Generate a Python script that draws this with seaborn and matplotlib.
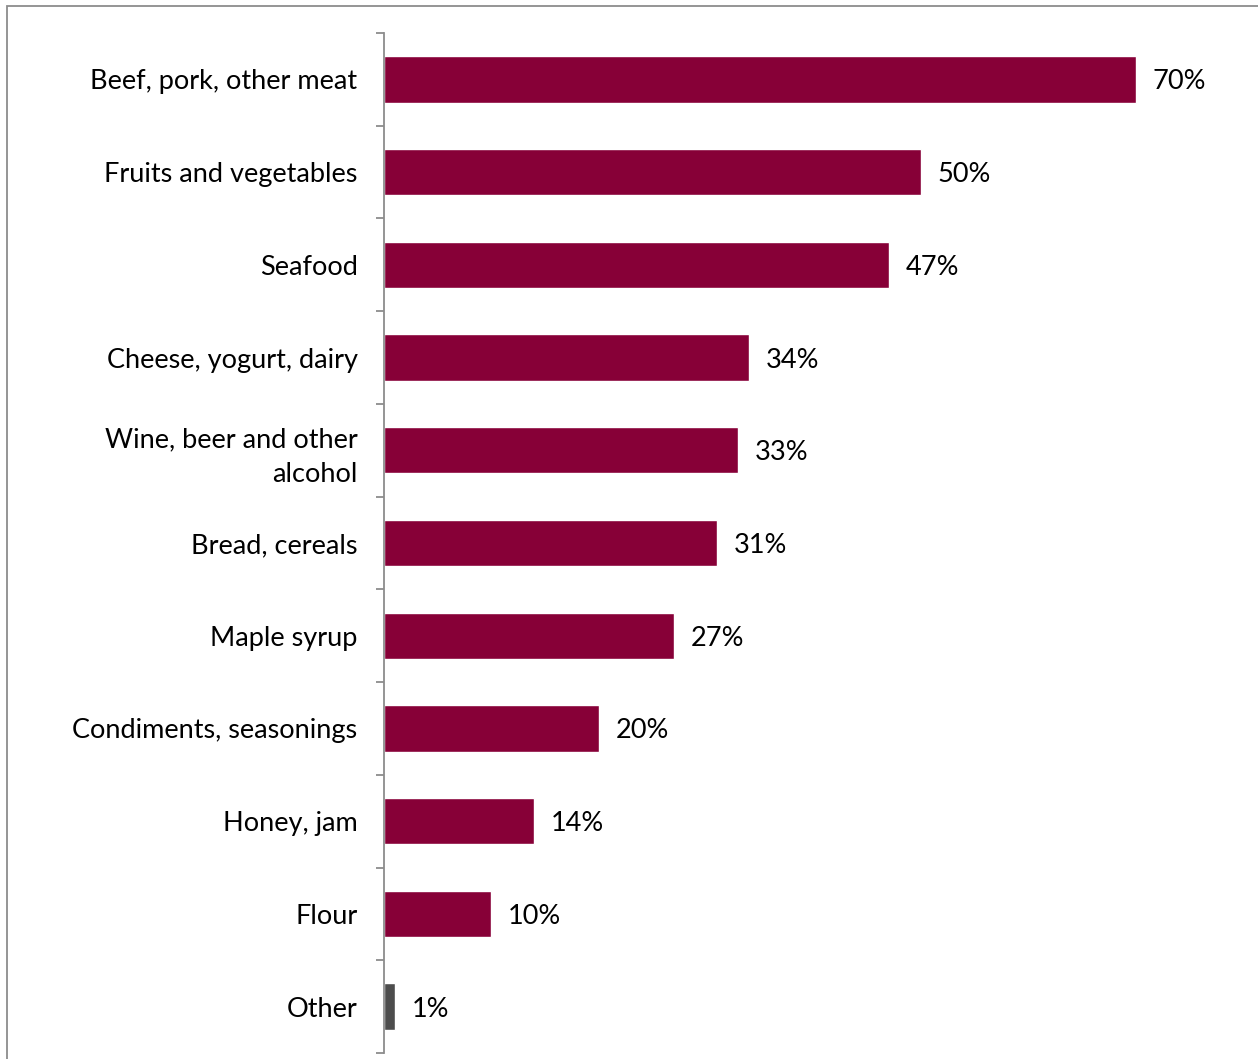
import matplotlib
matplotlib.use("Agg")
import matplotlib.pyplot as plt
import seaborn as sns
import pandas as pd
from matplotlib.ticker import FixedLocator

# data
categories = ["Beef, pork, other meat", "Fruits and vegetables", "Seafood",
              "Cheese, yogurt, dairy", "Wine, beer and other\nalcohol",
              "Bread, cereals", "Maple syrup", "Condiments, seasonings",
              "Honey, jam", "Flour", "Other"]
values = [70, 50, 47, 34, 33, 31, 27, 20, 14, 10, 1]
bar_colors = ["#870037"] * 10 + ["#4d4d4d"]

df = pd.DataFrame({"cat": categories, "val": values})

sns.set_style("white")
plt.rcParams["font.family"] = ["Lato", "DejaVu Sans"]
plt.rcParams["text.color"] = "black"

fig = plt.figure(figsize=(12.58, 10.59), dpi=100)
W, H = 1258, 1059
ax = fig.add_axes([384 / W, 6 / H, (80 * 10.74) / W, (1053 - 33) / H])

sns.barplot(data=df, x="val", y="cat", hue="cat", palette=bar_colors,
            legend=False, width=0.5, ax=ax, saturation=1, orient="h")

ax.set_xlim(0, 80)
ax.set_ylim(len(categories) - 0.5, -0.5)
ax.set_xlabel("")
ax.set_ylabel("")
ax.set_xticks([])

for s in ["top", "right", "bottom"]:
    ax.spines[s].set_visible(False)
ax.spines["left"].set_color("#8c8c8c")
ax.spines["left"].set_linewidth(1.3)

ax.yaxis.set_minor_locator(FixedLocator([i - 0.5 for i in range(len(categories) + 1)]))
ax.tick_params(axis="y", which="major", length=0, pad=19, labelsize=19.5, labelcolor="black")
ax.tick_params(axis="y", which="minor", length=6, width=1.3, color="#8c8c8c", left=True)
for lbl in ax.get_yticklabels():
    lbl.set_linespacing(1.45)

for c in ax.containers:
    texts = ax.bar_label(c, labels=[f"{int(v)}%" for v in c.datavalues], padding=12,
                         fontsize=19.5, color="black")
    for t in texts:
        t.set_verticalalignment("center_baseline")

# thin frame around the chart area like the original
fig.patches.append(plt.Rectangle((7 / W, -0.05), 1.1, 1 - 6 / H + 0.05, transform=fig.transFigure,
                                 fill=False, edgecolor="#8c8c8c", linewidth=1.3))

fig.savefig("out.png", dpi=100)
